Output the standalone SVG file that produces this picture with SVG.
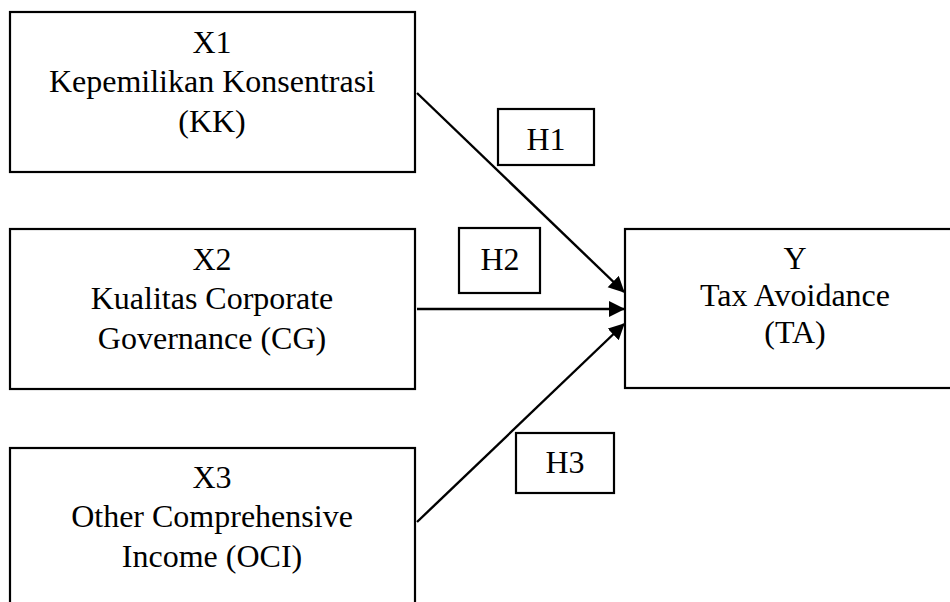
<svg xmlns="http://www.w3.org/2000/svg" width="950" height="602" viewBox="0 0 950 602">
<style>
  .box { fill: #ffffff; stroke: #000000; stroke-width: 2.2; }
  .lbl { fill: #ffffff; stroke: #000000; stroke-width: 2.2; }
  text { font-family: "Liberation Serif", "Times New Roman", serif; font-size: 32px; fill: #000000; text-anchor: middle; }
  .edge { stroke: #000000; stroke-width: 2.4; fill: none; marker-end: url(#arrow); }
</style>
<defs>
  <marker id="arrow" markerUnits="userSpaceOnUse" markerWidth="18" markerHeight="18" refX="15" refY="8" orient="auto">
    <path d="M0,0 L16,8 L0,16 Z" fill="#000000"/>
  </marker>
</defs>
<rect width="950" height="602" fill="#ffffff"/>
<g id="X1">
  <rect class="box" x="10" y="12" width="405" height="160"/>
  <text x="212" y="53">X1</text>
  <text x="212" y="92">Kepemilikan Konsentrasi</text>
  <text x="212" y="132">(KK)</text>
</g>
<g id="X2">
  <rect class="box" x="10" y="229" width="405" height="160"/>
  <text x="212" y="270">X2</text>
  <text x="212" y="309">Kualitas Corporate</text>
  <text x="212" y="349">Governance (CG)</text>
</g>
<g id="X3">
  <rect class="box" x="10" y="448" width="405" height="170"/>
  <text x="212" y="488">X3</text>
  <text x="212" y="527">Other Comprehensive</text>
  <text x="212" y="567">Income (OCI)</text>
</g>
<g id="Y">
  <rect class="box" x="625" y="229" width="340" height="159"/>
  <text x="795" y="269">Y</text>
  <text x="795" y="306">Tax Avoidance</text>
  <text x="795" y="343">(TA)</text>
</g>
<g id="connectors">
  <line class="edge" x1="417" y1="93" x2="624" y2="292"/>
  <line class="edge" x1="417" y1="309" x2="624" y2="309"/>
  <line class="edge" x1="417" y1="522" x2="624" y2="324"/>
</g>
<g id="H1">
  <rect class="lbl" x="498" y="109" width="96" height="56"/>
  <text x="546" y="150">H1</text>
</g>
<g id="H2">
  <rect class="lbl" x="459" y="228" width="81" height="65"/>
  <text x="500" y="270">H2</text>
</g>
<g id="H3">
  <rect class="lbl" x="516" y="433" width="98" height="60"/>
  <text x="565" y="473">H3</text>
</g>
</svg>
